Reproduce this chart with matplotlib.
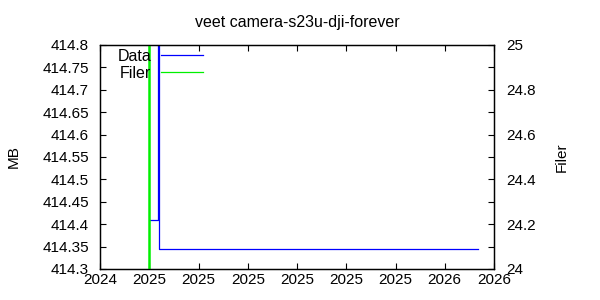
import matplotlib
matplotlib.use("Agg")
import matplotlib.pyplot as plt
import matplotlib.dates as mdates
from matplotlib.lines import Line2D
from matplotlib.ticker import FormatStrFormatter
from datetime import datetime

plt.rcParams['font.family'] = ['Liberation Sans', 'DejaVu Sans']
plt.rcParams['font.size'] = 11

# Data (MB), gnuplot-style steps
data_dates = [datetime(2025, 1, 20), datetime(2025, 1, 30),
              datetime(2025, 1, 30, 12), datetime(2026, 2, 23)]
data_mb = [414.41, 415.3, 414.345, 414.345]

# Filer (antal filer) - går utanför skalan
filer_dates = [datetime(2025, 1, 19), datetime(2025, 1, 19)]
filer_count = [23, 26]

tick_dates = [datetime(2024, 11, 20), datetime(2025, 1, 19), datetime(2025, 3, 20),
              datetime(2025, 5, 19), datetime(2025, 7, 18), datetime(2025, 9, 16),
              datetime(2025, 11, 15), datetime(2026, 1, 14), datetime(2026, 3, 15)]
mb_ticks = [414.3, 414.35, 414.4, 414.45, 414.5, 414.55, 414.6, 414.65, 414.7, 414.75, 414.8]
filer_ticks = [24, 24.2, 24.4, 24.6, 24.8, 25]
filer_minor = [24.1, 24.3, 24.5, 24.7, 24.9]

fig = plt.figure(figsize=(6, 3), dpi=100)
ax = fig.add_axes([100 / 600, 31 / 300, 394 / 600, 224 / 300])
ax2 = ax.twinx()

ax.plot(data_dates, data_mb, drawstyle='steps-post', color='#0000ff', lw=0.9)
ax2.plot(filer_dates, filer_count, color='#00f000', lw=1.8)

ax.set_xlim(tick_dates[0], tick_dates[-1])
ax.set_xticks(tick_dates)
ax.xaxis.set_major_formatter(mdates.DateFormatter('%Y'))
ax.set_ylim(414.3, 414.8)
ax.set_yticks(mb_ticks)
ax.yaxis.set_major_formatter(FormatStrFormatter('%g'))
ax2.set_ylim(24, 25)
ax2.set_yticks(filer_ticks)
ax2.set_yticks(filer_minor, minor=True)
ax2.yaxis.set_major_formatter(FormatStrFormatter('%g'))

ax.tick_params(axis='x', direction='in', top=True, length=4, width=0.8, pad=3)
ax.tick_params(axis='y', direction='in', right=False, length=4, width=0.8, pad=8)
ax2.tick_params(axis='y', which='both', direction='in', length=4, width=0.8, pad=9)
for a in (ax, ax2):
    for s in a.spines.values():
        s.set_linewidth(0.9)

fig.text(297 / 600, 1 - 22 / 300, 'veet camera-s23u-dji-forever', ha='center', va='center',
         fontsize=11.5)
fig.text(14 / 600, 1 - 157 / 300, 'MB', rotation=90, ha='center', va='center')
fig.text(562 / 600, 1 - 157 / 300, 'Filer', rotation=90, ha='center', va='center')

handles = [Line2D([], [], color='#0000ff', lw=0.9), Line2D([], [], color='#00f000', lw=0.9)]
fig.legend(handles, ['Data', 'Filer'], loc='upper right', bbox_to_anchor=(203 / 600, 1 - 49 / 300),
           markerfirst=False, frameon=False, borderpad=0, borderaxespad=0,
           handlelength=2.6, handletextpad=0.65, labelspacing=0.1, fontsize=11.5)

fig.savefig('out.png', dpi=100)
